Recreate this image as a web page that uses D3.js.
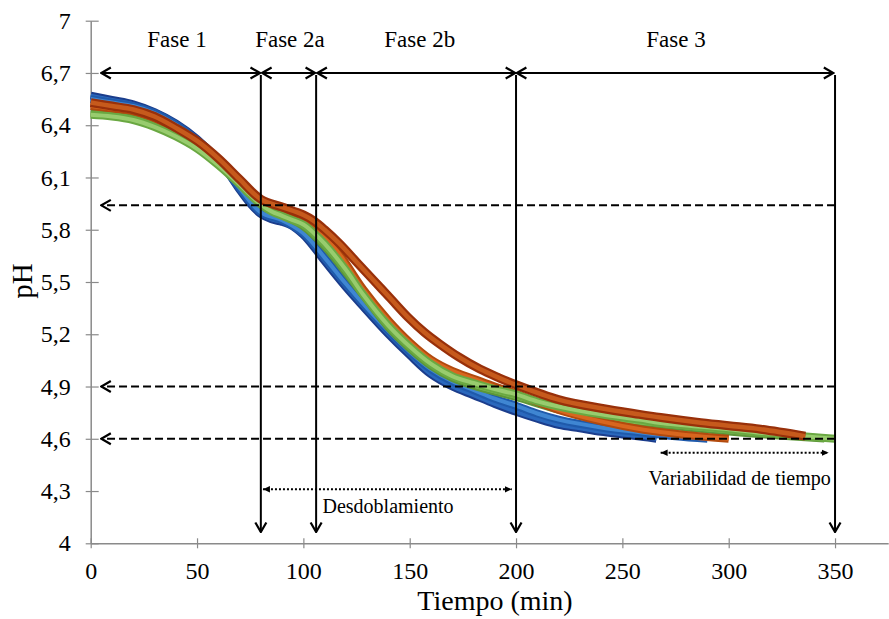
<!DOCTYPE html>
<html>
<head>
<meta charset="utf-8">
<title>pH vs tiempo</title>
<script src="https://d3js.org/d3.v7.min.js"></script>
<style>
  body { margin: 0; background: #fff; }
  svg text { font-family: "Liberation Serif", "Times New Roman", serif; fill: #000; }
</style>
</head>
<body>
<div id="chart"></div>
<script>
// ---- data ----
// time in minutes, pH values per run
const tBlue1  = [0, 10, 20, 30, 40, 50, 60, 65, 70, 75, 80, 85, 90, 95, 100, 105, 110, 120, 128, 140, 150, 160, 170, 180, 190, 200, 210, 220, 230, 240, 250, 260, 266];
const phBlue1 = [6.57, 6.545, 6.52, 6.475, 6.41, 6.32, 6.2, 6.12, 6.03, 5.95, 5.89, 5.86, 5.845, 5.82, 5.77, 5.7, 5.62, 5.47, 5.36, 5.2, 5.08, 4.97, 4.9, 4.85, 4.8, 4.755, 4.715, 4.68, 4.66, 4.64, 4.625, 4.61, 4.6];

const tBlue2  = [0, 10, 20, 30, 40, 50, 60, 70, 80, 90, 100, 110, 120, 130, 140, 150, 160, 170, 180, 190, 200, 210, 220, 240, 260, 275, 290];
const phBlue2 = [6.55, 6.53, 6.51, 6.47, 6.405, 6.315, 6.2, 6.04, 5.9, 5.855, 5.78, 5.64, 5.49, 5.35, 5.22, 5.1, 5.0, 4.93, 4.88, 4.83, 4.79, 4.745, 4.71, 4.665, 4.635, 4.615, 4.6];

const tOrange1  = [0, 10, 20, 30, 40, 50, 60, 70, 75, 80, 90, 100, 105, 110, 117, 128, 140, 150, 160, 170, 180, 190, 200, 220, 240, 260, 280, 300];
const phOrange1 = [6.51, 6.495, 6.48, 6.44, 6.38, 6.3, 6.2, 6.08, 6.02, 5.97, 5.92, 5.87, 5.83, 5.76, 5.66, 5.46, 5.28, 5.155, 5.055, 4.99, 4.945, 4.9, 4.86, 4.765, 4.7, 4.652, 4.622, 4.6];

const tOrange2  = [0, 10, 20, 30, 40, 50, 60, 70, 80, 90, 100, 105, 110, 117, 125, 133, 141, 149, 157, 164, 173, 183, 192, 200, 220, 240, 258, 268, 285, 300, 315, 336];
const phOrange2 = [6.53, 6.51, 6.49, 6.45, 6.385, 6.31, 6.21, 6.09, 5.975, 5.93, 5.885, 5.85, 5.8, 5.72, 5.615, 5.51, 5.405, 5.3, 5.21, 5.145, 5.07, 5.0, 4.95, 4.91, 4.825, 4.775, 4.74, 4.722, 4.695, 4.675, 4.655, 4.615];

const tGreen1  = [0, 10, 20, 30, 40, 50, 60, 70, 75, 80, 85, 90, 95, 100, 105, 110, 120, 128, 140, 150, 160, 170, 180, 190, 200, 210, 220, 240, 258, 268, 300, 315, 335, 350];
const phGreen1 = [6.46, 6.45, 6.43, 6.39, 6.335, 6.265, 6.17, 6.06, 6.0, 5.945, 5.905, 5.88, 5.855, 5.83, 5.78, 5.72, 5.57, 5.43, 5.25, 5.13, 5.03, 4.96, 4.92, 4.885, 4.855, 4.815, 4.785, 4.74, 4.71, 4.69, 4.655, 4.635, 4.615, 4.6];

const tGreen2  = [0, 10, 20, 30, 40, 50, 60, 70, 80, 90, 100, 110, 120, 130, 140, 150, 160, 170, 180, 200, 220, 240, 260, 280, 300, 320, 345];
const phGreen2 = [6.47, 6.46, 6.44, 6.4, 6.345, 6.275, 6.18, 6.07, 5.955, 5.885, 5.82, 5.705, 5.555, 5.395, 5.24, 5.12, 5.02, 4.95, 4.905, 4.84, 4.768, 4.722, 4.69, 4.665, 4.642, 4.622, 4.602];

// phase labels and their centre (min)
const phaseNames = ["Fase 1", "Fase 2a", "Fase 2b", "Fase 3"];
const phaseMid   = [40.6, 93.7, 154.7, 275.2];
// phase boundaries (min)
const phaseEdges = [0, 80, 106, 200, 350];
// dashed reference pH levels
const refLevels = [5.94, 4.9, 4.6];

const xMajor = d3.range(0, 351, 50);
const xMinor = d3.range(0, 371, 10).filter(v => v % 50 !== 0);
const yMajor = d3.range(0, 11).map(i => +(4 + i * 0.3).toFixed(2));
const yMinor = d3.range(0, 51).filter(i => i % 5 !== 0).map(i => +(4 + i * 0.06).toFixed(2));

// ---- chart ----
const W = 889, H = 619;
const svg = d3.select("#chart").append("svg")
    .attr("width", W)
    .attr("height", H);

const x = d3.scaleLinear().domain([0, 375]).range([90.7, 888.2]);
const y = d3.scaleLinear().domain([4, 7]).range([543.3, 20.7]);

const axisGray = "#8a8a8a";
const fmt = v => Number.isInteger(v) ? String(v) : v.toFixed(1).replace(".", ",");

// markers
const defs = svg.append("defs");
defs.append("marker")
    .attr("id", "open")
    .attr("markerUnits", "userSpaceOnUse")
    .attr("viewBox", "-1 -7 12 14")
    .attr("refX", 9.5).attr("refY", 0)
    .attr("markerWidth", 12).attr("markerHeight", 14)
    .attr("orient", "auto-start-reverse")
  .append("path")
    .attr("d", "M0,-5.5L9.5,0L0,5.5")
    .attr("fill", "none")
    .attr("stroke", "#000")
    .attr("stroke-width", 2.2);
defs.append("marker")
    .attr("id", "solid")
    .attr("markerUnits", "userSpaceOnUse")
    .attr("viewBox", "0 -4 8 8")
    .attr("refX", 7).attr("refY", 0)
    .attr("markerWidth", 8).attr("markerHeight", 8)
    .attr("orient", "auto-start-reverse")
  .append("path")
    .attr("d", "M0,-3.2L7,0L0,3.2Z")
    .attr("fill", "#000");

// y axis
const yAxis = svg.append("g").attr("transform", `translate(${x(0)},0)`);
yAxis.call(d3.axisLeft(y).tickValues(yMinor).tickSize(5).tickSizeOuter(0).tickFormat(""));
yAxis.call(d3.axisLeft(y).tickValues(yMajor).tickSize(5).tickSizeOuter(0).tickFormat(fmt));
yAxis.selectAll(".tick line").attr("stroke", axisGray).attr("stroke-width", 1.2);
yAxis.selectAll(".tick").filter(d => yMajor.includes(d)).select("line").attr("x2", -5).attr("x1", 8);
yAxis.selectAll(".domain").attr("stroke", axisGray).attr("stroke-width", 1.5);
yAxis.selectAll("text")
    .attr("x", -20)
    .style("font-size", "24px")
    .style("font-family", "Liberation Serif");

// x axis
const xAxis = svg.append("g").attr("transform", `translate(0,${y(4)})`);
xAxis.call(d3.axisBottom(x).tickValues(xMinor).tickSize(5).tickSizeOuter(0).tickFormat(""));
xAxis.call(d3.axisBottom(x).tickValues(xMajor).tickSize(5).tickSizeOuter(0).tickFormat(d3.format("d")));
xAxis.selectAll(".tick line").attr("stroke", axisGray).attr("stroke-width", 1.2);
xAxis.selectAll(".tick").filter(d => xMajor.includes(d)).select("line").attr("y1", -5);
xAxis.selectAll(".domain").attr("stroke", axisGray).attr("stroke-width", 1.5);
xAxis.selectAll("text")
    .attr("y", 36).attr("dy", null)
    .style("font-size", "24px")
    .style("font-family", "Liberation Serif");

// axis titles
svg.append("text")
    .attr("x", 495).attr("y", 610)
    .attr("text-anchor", "middle")
    .style("font-size", "28px")
    .text("Tiempo (min)");
svg.append("text")
    .attr("transform", "translate(32,281) rotate(-90)")
    .attr("text-anchor", "middle")
    .style("font-size", "29px")
    .text("pH");

// curves: dark outer stroke + lighter core
const series = [
    { t: tBlue1,   v: phBlue1,   outer: "#1b3d8c", inner: "#2a68bd", w: 8 },
    { t: tBlue2,   v: phBlue2,   outer: "#1f5aab", inner: "#3f86d2", w: 8 },
    { t: tGreen2,  v: phGreen2,  outer: "#5c9638", inner: "#7fbb52", w: 8 },
    { t: tOrange1, v: phOrange1, outer: "#b24a0e", inner: "#d8661f", w: 8 },
    { t: tGreen1,  v: phGreen1,  outer: "#6aa842", inner: "#98cc6e", w: 8 },
    { t: tOrange2, v: phOrange2, outer: "#98300a", inner: "#c65a1c", w: 9 }
];
const line = d3.line()
    .x(d => x(d[0]))
    .y(d => y(d[1]))
    .curve(d3.curveCatmullRom.alpha(0.5));

const curves = svg.append("g");
series.forEach(s => {
    const pts = s.t.map((t, i) => [t, s.v[i]]);
    curves.append("path")
        .attr("d", line(pts))
        .attr("fill", "none")
        .attr("stroke", s.outer)
        .attr("stroke-width", s.w)
        .attr("stroke-linejoin", "round");
    curves.append("path")
        .attr("d", line(pts))
        .attr("fill", "none")
        .attr("stroke", s.inner)
        .attr("stroke-width", s.w / 2);
});

// annotations
const ann = svg.append("g");

// dashed reference lines with arrow on the left
refLevels.forEach(lv => {
    ann.append("line")
        .attr("x1", x(350)).attr("x2", x(5))
        .attr("y1", y(lv)).attr("y2", y(lv))
        .attr("stroke", "#000")
        .attr("stroke-width", 2)
        .attr("stroke-dasharray", "8,4")
        .attr("marker-end", "url(#open)");
});

// phase double arrows at pH 6.7
const arrowGap = [[5, 79.6], [80.6, 105.5], [106.6, 199.6], [200.4, 349.2]];
arrowGap.forEach(g => {
    ann.append("line")
        .attr("x1", x(g[0])).attr("x2", x(g[1]))
        .attr("y1", y(6.7)).attr("y2", y(6.7))
        .attr("stroke", "#000")
        .attr("stroke-width", 2)
        .attr("marker-start", "url(#open)")
        .attr("marker-end", "url(#open)");
});

// vertical boundary lines pointing down
phaseEdges.slice(1).forEach(e => {
    ann.append("line")
        .attr("x1", x(e)).attr("x2", x(e))
        .attr("y1", y(6.7) + 2).attr("y2", y(4.065))
        .attr("stroke", "#000")
        .attr("stroke-width", 2)
        .attr("marker-end", "url(#open)");
});

// phase labels
phaseNames.forEach((n, i) => {
    ann.append("text")
        .attr("x", x(phaseMid[i])).attr("y", y(6.85))
        .attr("text-anchor", "middle")
        .style("font-size", "23px")
        .text(n);
});

// dotted arrows
ann.append("line")
    .attr("x1", x(81)).attr("x2", x(198))
    .attr("y1", y(4.31)).attr("y2", y(4.31))
    .attr("stroke", "#000")
    .attr("stroke-width", 2)
    .attr("stroke-dasharray", "2,2")
    .attr("marker-start", "url(#solid)")
    .attr("marker-end", "url(#solid)");
ann.append("text")
    .attr("x", x(109)).attr("y", y(4.176))
    .style("font-size", "20px")
    .text("Desdoblamiento");

ann.append("line")
    .attr("x1", x(268)).attr("x2", x(347))
    .attr("y1", y(4.52)).attr("y2", y(4.52))
    .attr("stroke", "#000")
    .attr("stroke-width", 2)
    .attr("stroke-dasharray", "2,2")
    .attr("marker-start", "url(#solid)")
    .attr("marker-end", "url(#solid)");
ann.append("text")
    .attr("x", x(348)).attr("y", y(4.335))
    .attr("text-anchor", "end")
    .style("font-size", "20px")
    .text("Variabilidad de tiempo");
</script>
</body>
</html>
